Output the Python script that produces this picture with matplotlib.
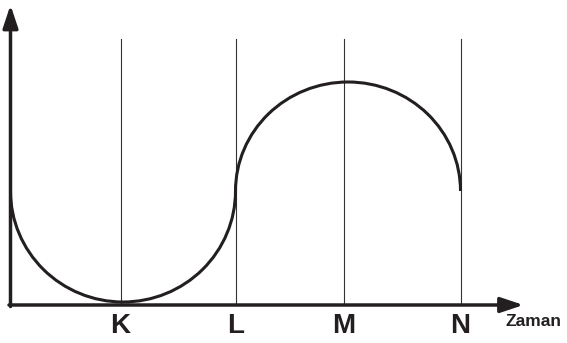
import matplotlib.pyplot as plt
from matplotlib.patches import Arc

# Zeitpunkte (x) und Niveaus (y) der Kurve
labels = ['K', 'L', 'M', 'N']
times = [0, 110, 225, 333, 450]      # Start, K, L, M, N
levels = [114, 3, 114, 223, 113]     # Start, Tief (K), L, Hoch (M), N
axis_label = 'Zaman'

ink = '#231f20'

fig = plt.figure(figsize=(5.67, 3.43), dpi=100)
ax = fig.add_axes([0, 0, 1, 1])
ax.set_xlim(-10.5, 556.5)
ax.set_ylim(-38, 305)
ax.axis('off')

# Achsen mit Pfeilen
arrow = dict(arrowstyle='-|>,head_length=0.6,head_width=0.2', lw=2.5,
             color=ink, mutation_scale=23, shrinkA=0, shrinkB=0)
ax.annotate('', xy=(0, 300), xytext=(0, -1.5), arrowprops=arrow)
ax.annotate('', xy=(513, 0), xytext=(-1.5, 0), arrowprops=arrow)

# senkrechte Linien bei K, L, M, N
for t, lab in zip(times[1:], labels):
    ax.plot([t, t], [0, 266], color='#333333', lw=0.8, zorder=1)
    ax.text(t, -21, lab, ha='center', va='center', fontsize=20,
            fontweight='bold', family='Liberation Sans', color=ink)

ax.text(495.5, -17, axis_label, ha='left', va='center', fontsize=12.5,
        fontweight='bold', family='Liberation Sans', color=ink)

# Kurve: zwei Halbkreise
w1 = times[2] - times[0]
ax.add_patch(Arc(((times[0] + times[2]) / 2, levels[0]), w1,
                 2 * (levels[0] - levels[1]), theta1=180, theta2=360,
                 color=ink, lw=2.2, zorder=3))
w2 = times[4] - times[2]
ax.add_patch(Arc(((times[2] + times[4]) / 2, levels[2]), w2,
                 2 * (levels[3] - levels[2]), theta1=0, theta2=180,
                 color=ink, lw=2.2, zorder=3))

fig.savefig('out.png', dpi=100)
